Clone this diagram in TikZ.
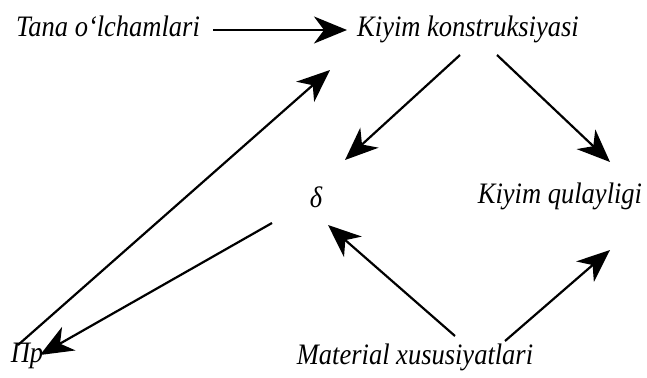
\documentclass[tikz,border=0pt]{standalone}
\usepackage{fontspec}
\setmainfont{Liberation Serif}
\usetikzlibrary{arrows.meta,calc}
\newcommand\talltext[1]{\scalebox{1}[1.12]{#1}}
\begin{document}
\begin{tikzpicture}[x=1pt,y=-1pt,
  lbl/.style={inner sep=0pt,anchor=base,font=\fontsize{26.5}{30}\selectfont\itshape},
  arr/.style={line width=2.2pt,-{Stealth[length=33pt,width=27pt,inset=10pt]}}]
\useasboundingbox (0,0) rectangle (647,377);
\node[lbl] (tana) at (108,37) {\talltext{Tana o‘lchamlari}};
\node[lbl] (kk) at (468,37) {\talltext{Kiyim konstruksiyasi}};
\node[lbl] (delta) at (316,207) {\talltext{δ}};
\node[lbl] (kq) at (560,203) {\talltext{Kiyim qulayligi}};
\node[lbl] (pr) at (27,362) {\talltext{Пр}};
\node[lbl] (mat) at (415,364) {\talltext{Material xususiyatlari}};
\draw[arr] ($(tana.base)+(105,-7)$) -- ($(kk.base)+(-121,-7)$);
\draw[arr] ($(kk.base)+(-8,18)$) -- ($(delta.base)+(29,-47)$);
\draw[arr] ($(kk.base)+(29,18)$) -- ($(kq.base)+(50,-41)$);
\draw[arr] ($(pr.base)+(-9,-17)$) -- ($(kk.base)+(-138,33)$);
\draw[arr] ($(delta.base)+(-44,16)$) -- ($(pr.base)+(13,-7)$);
\draw[arr] ($(mat.base)+(40,-28)$) -- ($(delta.base)+(12,18)$);
\draw[arr] ($(mat.base)+(90,-23)$) -- ($(kq.base)+(50,47)$);
\end{tikzpicture}
\end{document}
